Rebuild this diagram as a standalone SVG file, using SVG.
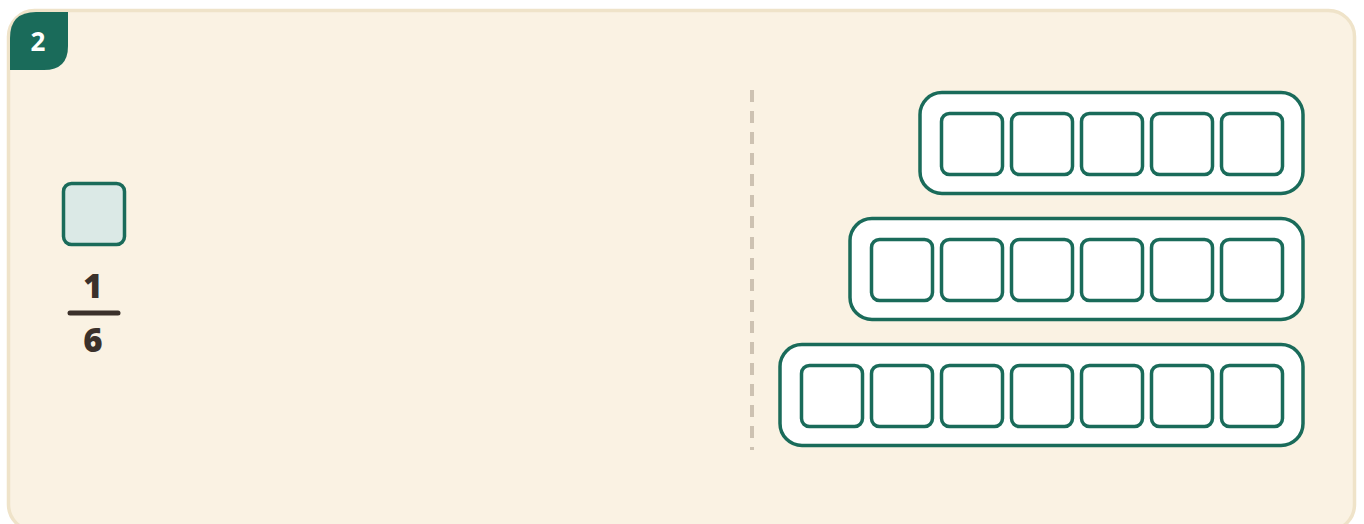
<svg xmlns="http://www.w3.org/2000/svg" width="1364" height="524" viewBox="0 0 1364 524">
<defs>
<style>
.card{fill:#faf2e3;stroke:#efe3c9;stroke-width:3.5}
.tray{fill:#ffffff;stroke:#1a6b5a;stroke-width:3.5}
.cell{fill:#ffffff;stroke:#1a6b5a;stroke-width:3.5}
.piece{fill:#dbe9e6;stroke:#1a6b5a;stroke-width:3.5}
.num{font-family:"Open Sans","Liberation Sans",sans-serif;font-weight:800;fill:#3b312b;font-size:33px;text-anchor:middle}
</style>
</defs>
<rect class="card" x="8.5" y="10.5" width="1346" height="520" rx="26"/>
<g id="badge">
<path d="M10 38 Q10 12 36 12 L68 12 L68 46 Q68 70 44 70 L10 70 Z" fill="#1a6b5a"/>
<text x="38" y="51" font-family="'Open Sans','Liberation Sans',sans-serif" font-weight="700" font-size="26" fill="#ffffff" text-anchor="middle">2</text>
</g>
<g id="piece">
<rect class="piece" x="63.5" y="183.5" width="61" height="61" rx="8"/>
<text class="num" x="93" y="298">1</text>
<line x1="70" y1="313" x2="118" y2="313" stroke="#3b312b" stroke-width="5" stroke-linecap="round"/>
<text class="num" x="93" y="352">6</text>
</g>
<g id="divider">
<line x1="752" y1="90" x2="752" y2="450" stroke="#cdc2b2" stroke-width="4" stroke-dasharray="12 9"/>
</g>
<g id="tray5">
<rect class="tray" x="920" y="92.5" width="383" height="101" rx="22"/>
<rect class="cell" x="941.5" y="113.5" width="61" height="61" rx="8"/>
<rect class="cell" x="1011.5" y="113.5" width="61" height="61" rx="8"/>
<rect class="cell" x="1081.5" y="113.5" width="61" height="61" rx="8"/>
<rect class="cell" x="1151.5" y="113.5" width="61" height="61" rx="8"/>
<rect class="cell" x="1221.5" y="113.5" width="61" height="61" rx="8"/>
</g>
<g id="tray6">
<rect class="tray" x="850" y="218.5" width="453" height="101" rx="22"/>
<rect class="cell" x="871.5" y="239.5" width="61" height="61" rx="8"/>
<rect class="cell" x="941.5" y="239.5" width="61" height="61" rx="8"/>
<rect class="cell" x="1011.5" y="239.5" width="61" height="61" rx="8"/>
<rect class="cell" x="1081.5" y="239.5" width="61" height="61" rx="8"/>
<rect class="cell" x="1151.5" y="239.5" width="61" height="61" rx="8"/>
<rect class="cell" x="1221.5" y="239.5" width="61" height="61" rx="8"/>
</g>
<g id="tray7">
<rect class="tray" x="780" y="344.5" width="523" height="101" rx="22"/>
<rect class="cell" x="801.5" y="365.5" width="61" height="61" rx="8"/>
<rect class="cell" x="871.5" y="365.5" width="61" height="61" rx="8"/>
<rect class="cell" x="941.5" y="365.5" width="61" height="61" rx="8"/>
<rect class="cell" x="1011.5" y="365.5" width="61" height="61" rx="8"/>
<rect class="cell" x="1081.5" y="365.5" width="61" height="61" rx="8"/>
<rect class="cell" x="1151.5" y="365.5" width="61" height="61" rx="8"/>
<rect class="cell" x="1221.5" y="365.5" width="61" height="61" rx="8"/>
</g>
<g id="connectors"></g>
</svg>
